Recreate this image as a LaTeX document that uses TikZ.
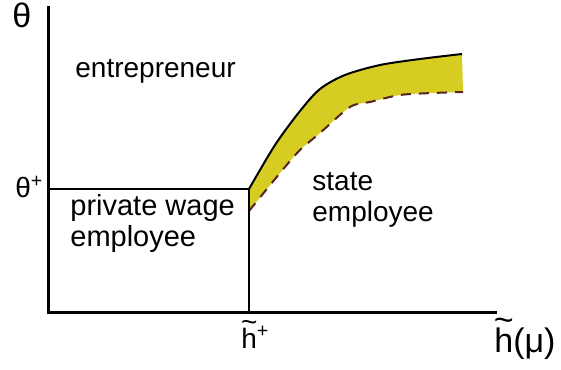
\documentclass[tikz,border=0pt]{standalone}
\usepackage{fontspec}
\setmainfont{Liberation Sans}
\usetikzlibrary{positioning,calc}
\definecolor{bandyellow}{RGB}{214,204,34}
\definecolor{bandbrown}{RGB}{85,35,35}
\newcommand{\tilh}{{\ooalign{h\cr\hidewidth\raisebox{0.6em}{\textasciitilde}\hidewidth\cr}}}

\begin{document}
\begin{tikzpicture}[x=0.5pt,y=0.5pt,
 axis/.style={line width=1.5pt},
 bound/.style={line width=1pt},
 dashbound/.style={line width=1pt, color=bandbrown, dash pattern=on 5pt off 4pt},
 lbl/.style={inner sep=0pt, anchor=base west, font=\fontsize{14.5}{15.5}\selectfont, align=left},
 axlbl/.style={inner sep=0pt, anchor=base west}]
    \useasboundingbox (0,0) rectangle (561,369);
    \coordinate (O) at (48,57);
    \coordinate (ytop) at (48,363);
    \coordinate (xend) at (497,57);
    \coordinate (tplus) at (48,180);
    \coordinate (corner) at (249,180);
    \coordinate (hplus) at (249,57);
    \coordinate (low) at (249,158);
    % band between the two boundaries
    \fill[bandyellow] plot[smooth] coordinates {(249,180) (275,224) (300,258) (320,280) (345,294) (380,304) (420,310) (462,315)}
        -- (463,277)
        -- plot[smooth] coordinates {(463,277) (433,276) (400,274) (370,267) (350,262) (320,236) (300,219) (280,196) (249,158)}
        -- cycle;
    \draw[bound] plot[smooth] coordinates {(249,180) (275,224) (300,258) (320,280) (345,294) (380,304) (420,310) (462,315)};
    \draw[dashbound] plot[smooth] coordinates {(249,158) (280,196) (300,219) (320,236) (350,262) (370,267) (400,274) (433,276) (463,277)};
    % axes and regions
    \draw[axis] (ytop) -- (O) -- (xend);
    \draw[bound] (tplus) -- (corner) -- (hplus);
    \draw[bound] (corner) -- (low);
    \node[axlbl, font=\fontsize{17}{18}\selectfont] (theta) at (12,341) {θ};
    \node[axlbl, font=\fontsize{14}{15}\selectfont] (thetaplus) at (15,171) {θ\textsuperscript{+}};
    \node[axlbl, font=\fontsize{14}{15}\selectfont] (htilde) at (241,21) {\tilh\textsuperscript{+}};
    \node[axlbl, font=\fontsize{17}{18}\selectfont] (hmu) at (494,17) {\tilh(μ)};
    \node[lbl, font=\fontsize{14}{15}\selectfont] (entre) at (75,291) {entrepreneur};
    \node[lbl] (priv) at (70,122) {private wage\\employee};
    \node[lbl, font=\fontsize{14}{15.5}\selectfont] (state) at (312,147) {state\\employee};
\end{tikzpicture}
\end{document}
